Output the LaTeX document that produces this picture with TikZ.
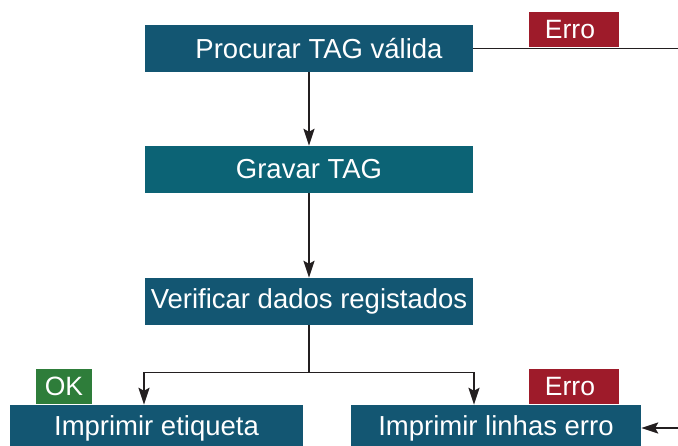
\documentclass[tikz,border=0pt]{standalone}
\usepackage{fontspec}
\setmainfont{Liberation Sans}
\usetikzlibrary{arrows.meta}
\definecolor{boxblue}{HTML}{135672}
\definecolor{boxteal}{HTML}{0C6375}
\definecolor{errred}{HTML}{9E1B2A}
\definecolor{okgreen}{HTML}{2E7D3A}
\definecolor{linec}{HTML}{231F20}
\tikzset{
  stepbox/.style={fill=boxblue, text=white, inner sep=0pt, minimum height=47pt,
    font=\fontsize{27.5}{32}\selectfont},
  tagbox/.style={text=white, inner sep=0pt, minimum height=35pt,
    font=\fontsize{26.5}{30}\selectfont},
  conn/.style={draw=linec, line width=1.9pt},
  arr/.style={conn, -{Stealth[length=17pt,width=11pt,inset=3pt]}}
}
\begin{document}
\begin{tikzpicture}[x=1pt,y=-1pt]
\useasboundingbox (0,0) rectangle (678,446);
\node[stepbox, minimum width=328pt] (b1) at (309,48.5) {\hspace*{20pt}Procurar TAG válida};
\node[stepbox, fill=boxteal, minimum width=328pt] (b2) at (309,169.5) {Gravar TAG};
\node[stepbox, minimum width=328pt] (b3) at (309,301.5) {Verificar dados registados};
\node[stepbox, minimum width=293pt] (b4) at (156.5,428.5) {Imprimir etiqueta};
\node[stepbox, minimum width=290pt] (b5) at (496,428.5) {Imprimir linhas erro};
\node[tagbox, fill=errred, minimum width=90pt] (e1) at (574,29.5) {\hspace*{-8pt}Erro};
\node[tagbox, fill=okgreen, minimum width=56pt] (ok) at (64,386.5) {OK};
\node[tagbox, fill=errred, minimum width=90pt] (e2) at (574,386.5) {\hspace*{-8pt}Erro};
\coordinate (topend) at (678,48.5);
\coordinate (split) at (309,372.5);
\coordinate (jl) at (144,372.5);
\coordinate (jr) at (474,372.5);
\coordinate (rin) at (678,428);
\draw[arr] (b1.south) -- (b2.north);
\draw[arr] (b2.south) -- (b3.north);
\draw[conn] (b3.south) -- (split);
\draw[arr] (split) -- (jl) -- (jl |- b4.north);
\draw[arr] (split) -- (jr) -- (jr |- b5.north);
\draw[conn] (b1.east) -- (topend);
\draw[arr] (rin) -- (b5.east |- rin);
\end{tikzpicture}
\end{document}
